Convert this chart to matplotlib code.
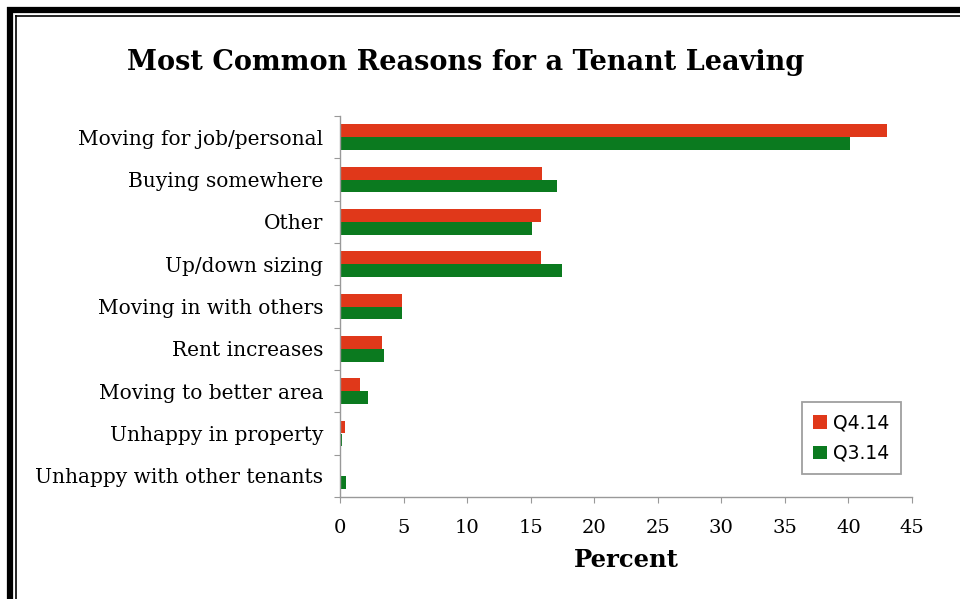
import matplotlib
matplotlib.use("Agg")
import matplotlib.pyplot as plt
from matplotlib.lines import Line2D
import numpy as np

categories = [
    "Moving for job/personal",
    "Buying somewhere",
    "Other",
    "Up/down sizing",
    "Moving in with others",
    "Rent increases",
    "Moving to better area",
    "Unhappy in property",
    "Unhappy with other tenants",
]
q4_14 = [43.0, 15.9, 15.8, 15.8, 4.9, 3.3, 1.6, 0.4, 0.1]
q3_14 = [40.1, 17.1, 15.1, 17.5, 4.9, 3.5, 2.2, 0.15, 0.5]
x_ticks = [0, 5, 10, 15, 20, 25, 30, 35, 40, 45]

RED = "#e0381a"
GREEN = "#0b7a1f"
SERIF = "DejaVu Serif"

W, H = 960, 599
fig = plt.figure(figsize=(W / 100, H / 100), dpi=100)
fig.patch.set_facecolor("white")

# axes placed in pixel terms
left, right, top, bottom = 340, 912, 116, 497
ax = fig.add_axes([left / W, 1 - bottom / H, (right - left) / W, (bottom - top) / H])

n = len(categories)
y = np.arange(n)
h = 0.30
ax.barh(y - h / 2, q4_14, height=h, color=RED, label="Q4.14")
ax.barh(y + h / 2, q3_14, height=h, color=GREEN, label="Q3.14")

ax.set_xlim(0, 45)
ax.set_ylim(n - 0.5, -0.5)
ax.set_xticks(x_ticks)
ax.set_xticklabels([str(t) for t in x_ticks], fontfamily=SERIF, fontsize=14)
ax.set_yticks(y)
ax.set_yticklabels(categories, fontfamily=SERIF, fontsize=14.5)
ax.set_yticks(np.arange(n + 1) - 0.5, minor=True)
ax.tick_params(axis="y", which="major", length=0, pad=12)
ax.tick_params(axis="y", which="minor", length=4, color="#999999", width=0.8)
ax.tick_params(axis="x", length=4, color="#999999", width=0.8, pad=12)

for side in ("top", "right"):
    ax.spines[side].set_visible(False)
for side in ("left", "bottom"):
    ax.spines[side].set_color("#999999")
    ax.spines[side].set_linewidth(1.0)

ax.set_xlabel("Percent", fontfamily=SERIF, fontsize=17.5, fontweight="bold", labelpad=8)

leg = ax.legend(loc="lower right", bbox_to_anchor=(0.99, 0.045), frameon=True,
                fancybox=False, edgecolor="#888888", fontsize=13.5,
                handlelength=0.75, handleheight=0.75, handletextpad=0.3,
                borderpad=0.6, borderaxespad=0.3, labelspacing=0.6)
leg.get_frame().set_linewidth(1.3)

fig.text(466 / W, 1 - 62 / H, "Most Common Reasons for a Tenant Leaving",
         ha="center", va="center", fontfamily=SERIF, fontsize=19.5, fontweight="bold")

# double frame along top and left edges
def px_line(x0, y0, x1, y1, lw):
    fig.add_artist(Line2D([x0 / W, x1 / W], [1 - y0 / H, 1 - y1 / H],
                          transform=fig.transFigure, color="black",
                          linewidth=lw, solid_capstyle="butt"))

px_line(7, 9.5, W, 9.5, 4.5)
px_line(10, 7, 10, H, 4.5)
px_line(15, 15.5, W, 15.5, 1.2)
px_line(15.5, 15, 15.5, H, 1.2)

fig.savefig("out.png", dpi=100)
